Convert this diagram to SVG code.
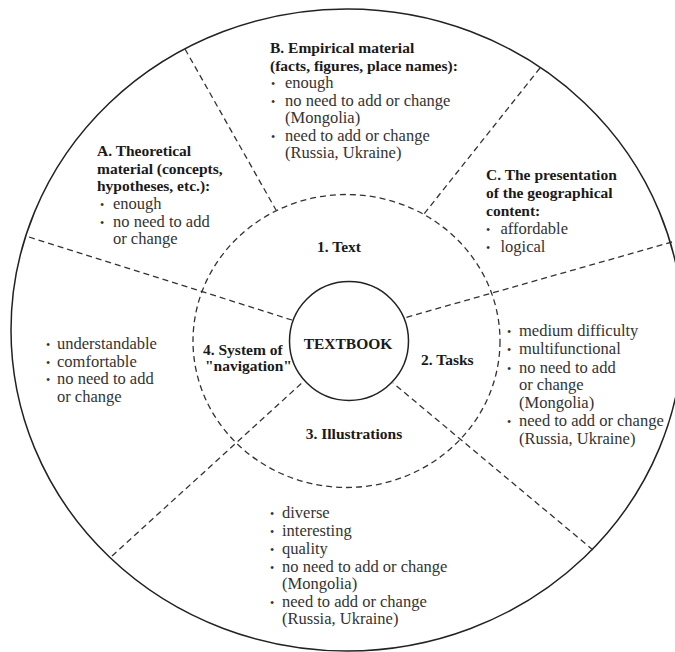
<svg xmlns="http://www.w3.org/2000/svg" width="675" height="652" viewBox="0 0 675 652">
<style>
text{font-family:"Liberation Serif","Times New Roman",serif;}
.h{font-size:15.5px;font-weight:bold;fill:#1a1a1a;}
.t{font-size:16.5px;fill:#333;}
.b{font-size:12px;fill:#333;}
.solid{fill:none;stroke:#222;stroke-width:1.5;}
.dash{fill:none;stroke:#333;stroke-width:1.3;stroke-dasharray:6 4;}
</style>
<rect width="675" height="652" fill="#fff"/>
<g id="rings">
<ellipse class="solid" cx="347" cy="330" rx="336" ry="321"/>
<ellipse class="dash" cx="346.5" cy="341" rx="153.5" ry="146.5"/>
</g>
<g id="connectors">
<line class="dash" x1="185" y1="49" x2="276" y2="210"/>
<line class="dash" x1="540" y1="68" x2="424" y2="214"/>
<line class="dash" x1="672" y1="242" x2="404" y2="318"/>
<line class="dash" x1="29" y1="237" x2="292" y2="320"/>
<line class="dash" x1="112" y1="556" x2="303" y2="382"/>
<line class="dash" x1="593" y1="550" x2="393" y2="383"/>
</g>
<g id="textbook">
<circle class="solid" cx="349" cy="341" r="59.5"/>
<text class="h" x="348" y="349.3" text-anchor="middle">TEXTBOOK</text>
</g>
<g id="text-section">
<text class="h" x="339" y="251.7" text-anchor="middle">1. Text</text>
</g>
<g id="tasks-section">
<text class="h" x="421" y="365">2. Tasks</text>
</g>
<g id="illustrations-section">
<text class="h" x="354" y="438.5" text-anchor="middle">3. Illustrations</text>
</g>
<g id="navigation-section">
<text class="h" x="203" y="355">4. System of</text>
<text class="h" x="205" y="370.5">"navigation"</text>
</g>
<g id="theoretical">
<text class="h" x="97" y="156">A. Theoretical</text>
<text class="h" x="97" y="173.5">material (concepts,</text>
<text class="h" x="97" y="191">hypotheses, etc.):</text>
<text class="t" y="209"><tspan class="b" x="100">•</tspan><tspan x="113">enough</tspan></text>
<text class="t" y="226.5"><tspan class="b" x="100">•</tspan><tspan x="113">no need to add</tspan></text>
<text class="t" x="113" y="244">or change</text>
</g>
<g id="empirical">
<text class="h" x="270" y="53">B. Empirical material</text>
<text class="h" x="270" y="70.5">(facts, figures, place names):</text>
<text class="t" y="88"><tspan class="b" x="271">•</tspan><tspan x="285">enough</tspan></text>
<text class="t" y="105.5"><tspan class="b" x="271">•</tspan><tspan x="285">no need to add or change</tspan></text>
<text class="t" x="285" y="123">(Mongolia)</text>
<text class="t" y="140.5"><tspan class="b" x="271">•</tspan><tspan x="285">need to add or change</tspan></text>
<text class="t" x="285" y="158">(Russia, Ukraine)</text>
</g>
<g id="presentation">
<text class="h" x="486" y="180">C. The presentation</text>
<text class="h" x="486" y="198">of the geographical</text>
<text class="h" x="486" y="216">content:</text>
<text class="t" y="234"><tspan class="b" x="486">•</tspan><tspan x="500.5">affordable</tspan></text>
<text class="t" y="251.7"><tspan class="b" x="486">•</tspan><tspan x="500.5">logical</tspan></text>
</g>
<g id="tasks-notes">
<text class="t" y="336"><tspan class="b" x="507">•</tspan><tspan x="519">medium difficulty</tspan></text>
<text class="t" y="354"><tspan class="b" x="507">•</tspan><tspan x="519">multifunctional</tspan></text>
<text class="t" y="372.5"><tspan class="b" x="507">•</tspan><tspan x="519">no need to add</tspan></text>
<text class="t" x="519" y="390">or change</text>
<text class="t" x="519" y="407.5">(Mongolia)</text>
<text class="t" y="426"><tspan class="b" x="507">•</tspan><tspan x="519">need to add or change</tspan></text>
<text class="t" x="519" y="443.5">(Russia, Ukraine)</text>
</g>
<g id="navigation-notes">
<text class="t" y="349.3"><tspan class="b" x="46">•</tspan><tspan x="57">understandable</tspan></text>
<text class="t" y="366.7"><tspan class="b" x="46">•</tspan><tspan x="57">comfortable</tspan></text>
<text class="t" y="384.3"><tspan class="b" x="46">•</tspan><tspan x="57">no need to add</tspan></text>
<text class="t" x="57" y="401.7">or change</text>
</g>
<g id="illustrations-notes">
<text class="t" y="518.3"><tspan class="b" x="270">•</tspan><tspan x="282">diverse</tspan></text>
<text class="t" y="536"><tspan class="b" x="270">•</tspan><tspan x="282">interesting</tspan></text>
<text class="t" y="553.5"><tspan class="b" x="270">•</tspan><tspan x="282">quality</tspan></text>
<text class="t" y="571.5"><tspan class="b" x="270">•</tspan><tspan x="282">no need to add or change</tspan></text>
<text class="t" x="282" y="589.3">(Mongolia)</text>
<text class="t" y="606.7"><tspan class="b" x="270">•</tspan><tspan x="282">need to add or change</tspan></text>
<text class="t" x="282" y="624.3">(Russia, Ukraine)</text>
</g>
</svg>
